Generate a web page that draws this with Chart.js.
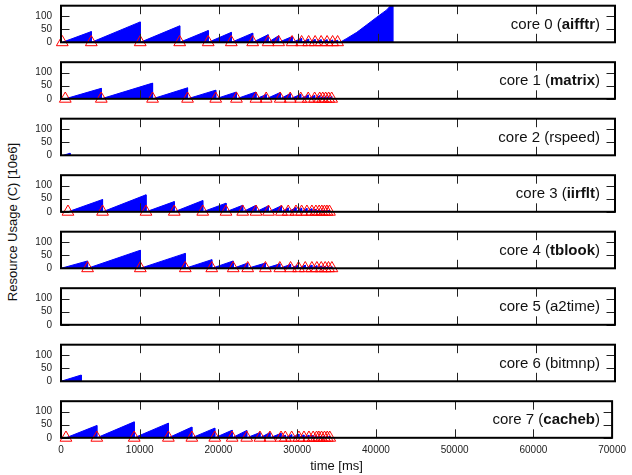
<!DOCTYPE html>
<html>
<head>
<meta charset="utf-8">
<script src="https://cdn.jsdelivr.net/npm/chart.js@4.4.0/dist/chart.umd.min.js"></script>
<style>
html,body{margin:0;padding:0;background:#fff;}
#wrap{position:relative;width:632px;height:475px;overflow:hidden;}
#wrap canvas{position:absolute;left:0;top:-30px;}
#ylab{position:absolute;left:12px;top:222px;transform:translate(-50%,-50%) rotate(-90deg);
  font:13px "Liberation Sans",Arial,sans-serif;white-space:nowrap;color:#111;}
</style>
</head>
<body>
<div id="wrap"><div id="ylab">Resource Usage (C) [10e6]</div></div>
<script>
// one panel per core: usage ramps (blue) and job marks (red triangles)
const coreNames = ["aifftr","matrix","rspeed","iirflt","tblook","a2time","bitmnp","cacheb"];
const boldName  = [true, true, false, true, true, false, false, true];
const xTicks = [0,10000,20000,30000,40000,50000,60000,70000];
const yTicks = [0,50,100];

// ramp start (ms) per core, null = idle
const rampStart   = [160, 540, 300, 880, 0, null, 0, 630];
// triangle also drawn at the ramp start?
const startMarked = [true, true, false, true, false, false, false, true];

// times (ms) where the usage resets, and the usage reached just before
const aifftrEnds  = [3830,10010,15000,18600,21520,24220,26170,27500,29200,30400,31290,32110,32870,33620,34320,34950];
const aifftrPeaks = [41,78,63,45,38,35,29,25,22,15,12,11,10,10,9,8];
const aifftrTailT = [35260,36110,37370,38640,39900,41160,41920,41920];
const aifftrTailV = [0,15,38,67,96,124,150,0];

const matrixEnds  = [5090,11570,15990,19550,22170,24630,25930,27700,28960,30290,31240,32050,32690,33070,33440,33820,34200];
const matrixPeaks = [40,60,42,33,26,26,16,24,20,17,15,13,12,10,10,10,10];

const rspeedEnds  = [1150];
const rspeedPeaks = [8];

const iirfltEnds  = [5250,10740,14310,17910,20850,22960,24640,26220,27850,28710,29690,30400,31070,31700,32210,32620,32960,33290,33600,33920];
const iirfltPeaks = [47,65,39,43,33,25,25,23,23,15,16,14,13,12,10,9,8,8,7,7];

const tblookEnds  = [3360,10020,15700,19050,21760,23590,25830,27650,29010,30010,30860,31700,32330,32880,33380,33800,34230];
const tblookPeaks = [28,69,57,33,28,20,20,17,15,13,12,12,10,9,8,8,7];

const bitmnpEnds  = [2560];
const bitmnpPeaks = [24];

const cachebEnds  = [4550,9300,13640,16620,19530,21740,23590,25270,26540,27950,28490,29300,30220,30860,31490,32030,32460,32750,33090,33470,33820,34140];
const cachebPeaks = [47,61,56,41,37,29,28,20,20,17,10,12,14,11,10,9,8,7,7,7,7,6];

const allEnds  = [aifftrEnds, matrixEnds, rspeedEnds, iirfltEnds, tblookEnds, [], bitmnpEnds, cachebEnds];
const allPeaks = [aifftrPeaks, matrixPeaks, rspeedPeaks, iirfltPeaks, tblookPeaks, [], bitmnpPeaks, cachebPeaks];
const showMarks = [true, true, false, true, true, false, false, true];

const W = 632, H = 475, OFF = 30;   // canvases start OFF px above the page
const FONT = '"Liberation Sans", Arial, Helvetica, sans-serif';
const firstTop = 5.7, panelStep = 56.5, panelH = 36.6, tickLen = 8.5;

function rampPoints(i){
  if (rampStart[i] === null) return [];
  const pts = [{x: rampStart[i], y: 0}];
  allEnds[i].forEach((t, k) => { pts.push({x: t, y: allPeaks[i][k]}); pts.push({x: t, y: 0}); });
  if (i === 0) aifftrTailT.forEach((t, k) => pts.push({x: t, y: aifftrTailV[k]}));
  return pts;
}

function markPoints(i){
  if (!showMarks[i]) return [];
  const ts = startMarked[i] ? [rampStart[i], ...allEnds[i]] : allEnds[i];
  return ts.map(t => ({x: t, y: 0}));
}

const framePlugin = {
  id: 'frame',
  afterDraw(chart, args, opts){
    const {ctx, chartArea: a, scales: {x, y}} = chart;
    ctx.save();
    // inward ticks on all four sides
    ctx.strokeStyle = '#222'; ctx.lineWidth = 1;
    ctx.beginPath();
    xTicks.forEach(v => {
      const px = Math.round(x.getPixelForValue(v)) + 0.5;
      ctx.moveTo(px, a.top); ctx.lineTo(px, a.top + tickLen);
      ctx.moveTo(px, a.bottom); ctx.lineTo(px, a.bottom - tickLen);
    });
    yTicks.forEach(v => {
      const py = Math.round(y.getPixelForValue(v)) + 0.5;
      ctx.moveTo(a.left, py); ctx.lineTo(a.left + tickLen, py);
      ctx.moveTo(a.right, py); ctx.lineTo(a.right - tickLen, py);
    });
    ctx.stroke();
    ctx.strokeStyle = '#000'; ctx.lineWidth = 2;
    ctx.strokeRect(a.left, a.top, a.width, a.height);

    // "core N (name)" label, name in bold for some cores
    const i = opts.index;
    const pre = 'core ' + i + ' (', name = coreNames[i], post = ')';
    const reg = '15px ' + FONT, bold = (boldName[i] ? 'bold ' : '') + '15px ' + FONT;
    ctx.fillStyle = '#111'; ctx.textBaseline = 'middle'; ctx.textAlign = 'left';
    ctx.font = reg; const w1 = ctx.measureText(pre).width, w3 = ctx.measureText(post).width;
    ctx.font = bold; const w2 = ctx.measureText(name).width;
    const right = 600, cy = (a.top + a.bottom) / 2 + 0.5;
    let tx = right - w1 - w2 - w3;
    ctx.font = reg; ctx.fillText(pre, tx, cy); tx += w1;
    ctx.font = bold; ctx.fillText(name, tx, cy); tx += w2;
    ctx.font = reg; ctx.fillText(post, tx, cy);
    ctx.restore();
  }
};

const wrap = document.getElementById('wrap');

coreNames.forEach((n, i) => {
  const cv = document.createElement('canvas');
  cv.width = W; cv.height = H + OFF;
  wrap.appendChild(cv);
  const last = i === coreNames.length - 1;
  const top = OFF + firstTop + i * panelStep;
  new Chart(cv, {
    type: 'line',
    data: {datasets: [
      {data: rampPoints(i), fill: 'origin', backgroundColor: '#0000ff', borderColor: '#0000ff',
       borderWidth: 1, pointRadius: 0, tension: 0, order: 2},
      {data: markPoints(i), showLine: false, pointStyle: 'triangle', pointRadius: 6.8,
       pointBorderColor: '#ff0000', pointBackgroundColor: 'rgba(0,0,0,0)', pointBorderWidth: 1,
       clip: false, order: 1}
    ]},
    options: {
      responsive: false, animation: false, events: [],
      layout: {padding: {left: 0, right: 17, top: top, bottom: last ? 0 : H + OFF - top - panelH}},
      plugins: {legend: {display: false}, tooltip: {enabled: false}, frame: {index: i}},
      scales: {
        x: {type: 'linear', min: 0, max: 70000,
            grid: {display: false, drawTicks: false}, border: {display: false},
            ticks: {display: last, stepSize: 10000, padding: 6, color: '#222', autoSkip: false, maxRotation: 0,
                    font: {family: FONT, size: 10}, callback: v => String(v)},
            title: {display: last, text: 'time [ms]', color: '#111', padding: {top: 0, bottom: 1},
                    font: {family: FONT, size: 13}},
            afterFit: s => { s.height = last ? H + OFF - (top + panelH) : 0; }},
        y: {min: 0, max: 140,
            afterBuildTicks: s => { s.ticks = yTicks.map(v => ({value: v})); },
            afterFit: s => { s.width = 61; },
            grid: {display: false, drawTicks: false}, border: {display: false},
            ticks: {padding: 9, color: '#222', font: {family: FONT, size: 10}}}
      }
    },
    plugins: [framePlugin]
  });
});
</script>
</body>
</html>
